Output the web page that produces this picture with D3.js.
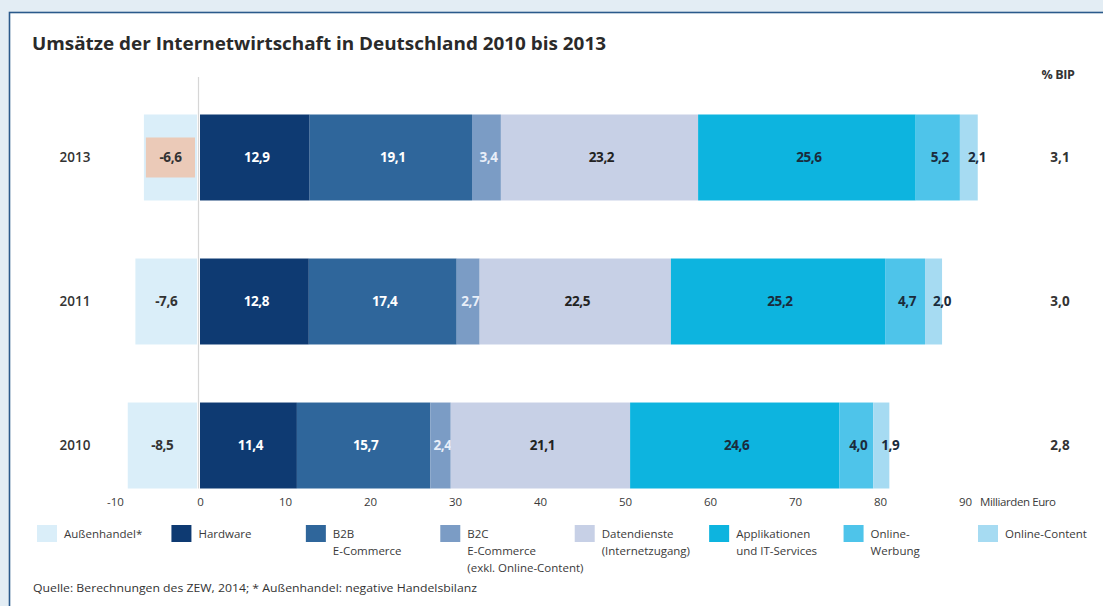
<!DOCTYPE html>
<html><head><meta charset="utf-8">
<script src="https://cdn.jsdelivr.net/npm/d3@7"></script>
<style>body{margin:0;background:#e3edf4;} svg{display:block}</style>
</head><body><svg id="c" width="1103" height="606"></svg>
<script>
// ---- data ----
const years = ["2013", "2011", "2010"];
const seriesKeys = ["aussenhandel","hardware","b2b","b2c","datendienste","applikationen","werbung","content"];
const legendLines = [
  ["Außenhandel*"], ["Hardware"], ["B2B","E-Commerce"],
  ["B2C","E-Commerce","(exkl. Online-Content)"],
  ["Datendienste","(Internetzugang)"], ["Applikationen","und IT-Services"],
  ["Online-","Werbung"], ["Online-Content"]
];
const aussenhandel  = [-6.6, -7.6, -8.5];
const hardware      = [12.9, 12.8, 11.4];
const b2b           = [19.1, 17.4, 15.7];
const b2c           = [3.4, 2.7, 2.4];
const datendienste  = [23.2, 22.5, 21.1];
const applikationen = [25.6, 25.2, 24.6];
const werbung       = [5.2, 4.7, 4.0];
const content       = [2.1, 2.0, 1.9];
const bipShare      = [3.1, 3.0, 2.8];
const tickValues    = [-10, 0, 10, 20, 30, 40, 50, 60, 70, 80, 90];
const highlightYear = "2013";
const title  = "Umsätze der Internetwirtschaft in Deutschland 2010 bis 2013";
const source = "Quelle: Berechnungen des ZEW, 2014; * Außenhandel: negative Handelsbilanz";
const unitLabel = "Milliarden Euro";
const bipLabel = "% BIP";

// ---- styles ----
const colors = {
  aussenhandel:"#daeef9", hardware:"#0e3a72", b2b:"#2f669b", b2c:"#7b9cc5",
  datendienste:"#c7d0e6", applikationen:"#0db4df", werbung:"#4ec4ea", content:"#a6dbf2"
};
const labelColors = {
  aussenhandel:"#333", hardware:"#fff", b2b:"#fff", b2c:"#e8eef8",
  datendienste:"#222", applikationen:"#1b2b3b", werbung:"#1b2b3b", content:"#1b2b3b"
};
const FONT = "'Open Sans', 'Noto Sans', sans-serif";

const valuesByKey = {aussenhandel, hardware, b2b, b2c, datendienste, applikationen, werbung, content};
const rows = years.map((y, i) => {
  const r = {year: y};
  seriesKeys.forEach(k => r[k] = valuesByKey[k][i]);
  return r;
});
const locale = d3.formatLocale({decimal:",", thousands:".", grouping:[3], currency:["","€"], minus:"-"});
const fmt = locale.format(".1f");

const svg = d3.select("#c");
// panel
svg.append("rect").attr("x", 9.5).attr("y", 12.5).attr("width", 1110).attr("height", 620)
  .attr("fill", "#fff").attr("stroke", "#2b5a8b").attr("stroke-width", 1.6);

svg.append("text").attr("x", 32).attr("y", 50).text(title)
  .attr("font-family", FONT).attr("font-weight", 700).attr("font-size", 18)
  .attr("fill", "#2a2a2a").attr("textLength", 574).attr("lengthAdjust", "spacingAndGlyphs");

const x = d3.scaleLinear().domain([-10, 90]).range([115, 965]);
const y = d3.scaleBand().domain(years).range([114.5, 488.5]).paddingInner(0.403).paddingOuter(0);

// zero line
svg.append("line").attr("x1", x(0) - 1.5).attr("x2", x(0) - 1.5).attr("y1", 77).attr("y2", y.range()[1])
  .attr("stroke", "#d6d6d6").attr("stroke-width", 1.2);

// negative series
const neg = svg.append("g");
neg.selectAll("rect.bg").data(rows).join("rect")
  .attr("x", d => x(d.aussenhandel)).attr("width", d => x(0) - 3 - x(d.aussenhandel))
  .attr("y", d => y(d.year)).attr("height", y.bandwidth()).attr("fill", colors.aussenhandel);
neg.selectAll("rect.hl").data(rows.filter(d => d.year === highlightYear)).join("rect")
  .attr("x", d => x(d.aussenhandel) + 2).attr("width", d => x(0) - 7 - x(d.aussenhandel))
  .attr("y", d => y(d.year) + y.bandwidth()/2 - 20).attr("height", 40).attr("fill", "#ebcab8");
neg.selectAll("text").data(rows).join("text")
  .attr("x", d => (x(d.aussenhandel) + x(0) - 3) / 2).attr("y", d => y(d.year) + y.bandwidth()/2)
  .attr("dy", "0.35em").attr("text-anchor", "middle").text(d => fmt(d.aussenhandel))
  .attr("font-family", FONT).attr("font-weight", 700).attr("font-size", 13.5)
  .attr("fill", labelColors.aussenhandel).attr("letter-spacing", -0.4);

// positive stacked series
const posKeys = seriesKeys.slice(1);
const stacked = d3.stack().keys(posKeys)(rows);
stacked.forEach(layer => {
  const g = svg.append("g");
  const k = layer.key;
  g.selectAll("rect").data(layer).join("rect")
    .attr("x", d => x(d[0])).attr("width", d => x(d[1]) - x(d[0]))
    .attr("y", d => y(d.data.year)).attr("height", y.bandwidth()).attr("fill", colors[k]);
  g.selectAll("text").data(layer).join("text")
    .attr("x", d => (x(d[1]) - x(d[0]) < 19) ? x(d[0]) + 8 : (x(d[0]) + x(d[1])) / 2 + 2)
    .attr("text-anchor", d => (x(d[1]) - x(d[0]) < 19) ? "start" : "middle")
    .attr("y", d => y(d.data.year) + y.bandwidth()/2).attr("dy", "0.35em")
    .text(d => fmt(d.data[k]))
    .attr("font-family", FONT).attr("font-weight", 700).attr("font-size", 13.5)
    .attr("fill", labelColors[k]).attr("letter-spacing", -0.4);
});

// year labels
svg.append("g").selectAll("text").data(years).join("text")
  .attr("x", 75).attr("y", d => y(d) + y.bandwidth()/2).attr("dy", "0.35em")
  .attr("text-anchor", "middle").text(d => d)
  .attr("font-family", FONT).attr("font-weight", 600).attr("font-size", 13.5).attr("fill", "#333");

// % BIP
svg.append("text").attr("x", 1058).attr("y", 75).attr("dy", "0.35em").attr("text-anchor", "middle")
  .text(bipLabel).attr("font-family", FONT).attr("font-weight", 700).attr("font-size", 12.5)
  .attr("fill", "#333").attr("letter-spacing", -0.4);
svg.append("g").selectAll("text").data(rows).join("text")
  .attr("x", 1060).attr("y", (d) => y(d.year) + y.bandwidth()/2).attr("dy", "0.35em")
  .attr("text-anchor", "middle").text((d, i) => fmt(bipShare[i]))
  .attr("font-family", FONT).attr("font-weight", 700).attr("font-size", 13.5).attr("fill", "#333");

// x axis
const axis = svg.append("g").attr("transform", `translate(0,${498})`)
  .call(d3.axisBottom(x).tickValues(tickValues).tickSize(0).tickPadding(0).tickFormat(d => String(d)));
axis.select(".domain").remove();
axis.selectAll("text").attr("font-family", FONT).attr("font-size", 11.5).attr("fill", "#3a3a3a")
  .attr("dy", "0.7em");
svg.append("text").attr("x", 980).attr("y", 498).attr("dy", "0.7em").text(unitLabel)
  .attr("font-family", FONT).attr("font-size", 11.5).attr("fill", "#3a3a3a").attr("letter-spacing", -0.4);

// legend
const lx = d3.scaleLinear().domain([0, seriesKeys.length - 1]).range([37, 978]);
const leg = svg.append("g").selectAll("g").data(seriesKeys).join("g")
  .attr("transform", (d, i) => `translate(${lx(i)},525)`);
leg.append("rect").attr("width", 20).attr("height", 17).attr("fill", d => colors[d]);
leg.append("text").attr("x", 27).attr("y", 12.5)
  .attr("font-family", FONT).attr("font-size", 11.5).attr("fill", "#3a3a3a")
  .selectAll("tspan").data((d, i) => legendLines[i]).join("tspan")
  .attr("x", 27).attr("dy", (d, j) => j === 0 ? 0 : 17).text(d => d);

svg.append("text").attr("x", 33).attr("y", 588).attr("dy", "0.35em").text(source)
  .attr("font-family", FONT).attr("font-size", 11.5).attr("fill", "#333")
  .attr("textLength", 444).attr("lengthAdjust", "spacingAndGlyphs");
</script></body></html>
